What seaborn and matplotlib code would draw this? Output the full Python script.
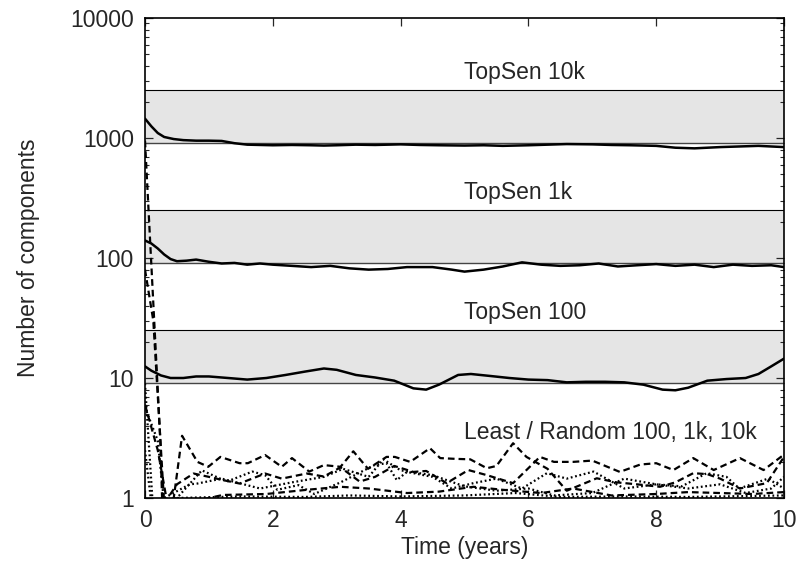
import matplotlib
matplotlib.use("Agg")
import matplotlib.pyplot as plt
import seaborn as sns

# ---- data ----
band_low = [9.1, 91, 910]
band_high = [25, 250, 2500]
band_labels = ["TopSen 100", "TopSen 1k", "TopSen 10k"]
band_label_pos = [35, 350, 3500]
least_label = "Least / Random 100, 1k, 10k"
least_label_pos = 3.5

top10k_x = [0, 0.1, 0.2, 0.3, 0.45, 0.6, 0.8, 1.0, 1.2, 1.4, 1.6, 1.8, 2.0, 2.3, 2.6, 2.8, 3.0, 3.3, 3.6, 4.0, 4.3, 4.6, 5.0, 5.3, 5.6, 6.0, 6.3, 6.6, 7.0, 7.3, 7.6, 8.0, 8.3, 8.6, 9.0, 9.3, 9.6, 10]
top10k_y = [1450, 1250, 1100, 1020, 980, 960, 950, 950, 945, 905, 880, 875, 870, 875, 870, 865, 870, 880, 875, 885, 875, 870, 865, 870, 860, 870, 880, 890, 885, 875, 870, 860, 830, 820, 840, 850, 860, 840]

top1k_x = [0, 0.1, 0.2, 0.3, 0.4, 0.5, 0.65, 0.8, 1.0, 1.2, 1.4, 1.6, 1.8, 2.0, 2.3, 2.6, 2.9, 3.2, 3.5, 3.8, 4.1, 4.5, 4.8, 5.0, 5.3, 5.6, 5.9, 6.2, 6.5, 6.8, 7.1, 7.4, 7.7, 8.0, 8.3, 8.6, 8.9, 9.2, 9.5, 9.8, 10]
top1k_y = [140, 132, 120, 107, 98, 94, 95, 97, 93, 90, 91, 88, 90, 88, 86, 84, 86, 82, 80, 81, 84, 84, 80, 77, 80, 85, 92, 88, 86, 87, 90, 85, 87, 89, 86, 88, 84, 88, 86, 87, 84]

top100_x = [0, 0.1, 0.25, 0.4, 0.6, 0.8, 1.0, 1.3, 1.6, 1.9, 2.2, 2.5, 2.8, 3.0, 3.3, 3.6, 3.9, 4.2, 4.4, 4.6, 4.9, 5.1, 5.4, 5.7, 6.0, 6.3, 6.6, 6.9, 7.2, 7.5, 7.8, 8.1, 8.3, 8.5, 8.8, 9.1, 9.4, 9.6, 9.8, 10]
top100_y = [12.5, 11.5, 10.5, 10.0, 10.0, 10.3, 10.3, 10.0, 9.7, 10.0, 10.6, 11.3, 12.0, 11.7, 10.6, 10.1, 9.5, 8.2, 8.0, 8.8, 10.6, 10.8, 10.4, 10.0, 9.7, 9.6, 9.2, 9.3, 9.3, 9.2, 8.8, 8.0, 7.9, 8.3, 9.5, 9.8, 10.0, 10.8, 12.5, 14.5]

least_a_x = [0, 0.24, 0.27, 0.45, 0.58, 0.82, 0.99, 1.18, 1.48, 1.61, 1.88, 2.14, 2.30, 2.57, 2.80, 3.06, 3.26, 3.49, 3.78, 3.91, 4.15, 4.46, 4.62, 4.85, 5.09, 5.35, 5.5, 5.76, 5.97, 6.3, 6.6, 7.07, 7.38, 7.7, 8.06, 8.3, 8.58, 8.8, 9.0, 9.31, 9.73, 10]
least_a_y = [950, 3.0, 0.9, 1.0, 3.3, 2.0, 1.82, 2.2, 1.95, 1.95, 2.28, 1.82, 2.15, 1.66, 1.88, 1.82, 2.45, 1.75, 2.2, 2.2, 2.0, 2.6, 2.15, 2.12, 2.1, 1.77, 1.85, 2.86, 2.2, 1.75, 1.15, 1.46, 1.35, 1.3, 1.24, 1.35, 1.61, 1.58, 1.45, 1.2, 1.33, 2.2]

least_b_x = [0, 0.13, 0.3, 0.5, 0.76, 1.0, 1.22, 1.48, 1.88, 2.14, 2.53, 2.80, 3.06, 3.36, 3.6, 3.9, 4.2, 4.4, 4.72, 5.06, 5.35, 5.76, 6.18, 6.4, 6.7, 7.0, 7.43, 7.75, 8.0, 8.27, 8.58, 8.9, 9.31, 9.68, 10]
least_b_y = [80, 30, 0.9, 1.3, 1.6, 1.5, 1.41, 1.32, 1.6, 1.45, 1.6, 1.51, 1.8, 1.37, 1.5, 1.85, 1.65, 1.68, 1.33, 1.71, 1.55, 1.33, 2.2, 2.0, 2.0, 2.05, 1.65, 1.9, 1.95, 1.71, 2.15, 1.71, 2.15, 1.71, 2.3]

least_c_x = [0, 0.2, 0.35, 0.6, 1.0, 1.22, 1.9, 2.53, 3.06, 3.5, 4.1, 4.6, 5.14, 5.6, 6.2, 6.7, 7.3, 8.0, 8.5, 9.0, 9.5, 10]
least_c_y = [6.0, 2.5, 0.9, 0.9, 1.0, 1.06, 1.08, 1.17, 1.24, 1.2, 1.1, 1.13, 1.24, 1.17, 1.1, 1.2, 1.05, 1.08, 1.12, 1.1, 1.08, 1.12]

rand_d_x = [0, 0.2, 0.3, 0.5, 0.89, 1.28, 1.68, 1.88, 2.07, 2.4, 2.65, 3.06, 3.59, 3.78, 3.94, 4.1, 4.5, 4.8, 5.14, 5.5, 5.9, 6.29, 6.6, 7.02, 7.5, 8.0, 8.4, 8.79, 9.1, 9.3, 9.75, 10]
rand_d_y = [5.7, 3.0, 0.9, 1.0, 1.7, 1.37, 1.66, 1.55, 1.17, 1.28, 1.08, 1.35, 1.88, 1.95, 1.41, 1.65, 1.5, 1.2, 1.33, 1.45, 1.2, 1.61, 1.45, 1.66, 1.2, 1.3, 1.25, 1.61, 1.5, 1.2, 1.45, 1.2]

rand_e_x = [0, 0.1, 0.5, 1.5, 2.5, 3.2, 4.0, 5.0, 5.8, 6.5, 7.5, 8.5, 9.5, 10]
rand_e_y = [2.5, 0.9, 1.0, 1.03, 1.02, 1.05, 1.03, 1.05, 1.1, 1.02, 1.03, 1.02, 1.04, 1.05]

rand_f_x = [0, 0.12, 0.3, 0.7, 0.82, 1.2, 1.8, 2.3, 2.8, 3.1, 3.5, 3.73, 4.0, 4.5, 5.0, 5.5, 6.0, 6.4, 7.0, 7.5, 8.0, 8.5, 9.0, 9.4, 9.8, 10]
rand_f_y = [9.0, 0.9, 1.0, 1.3, 1.32, 1.45, 1.2, 1.35, 1.5, 1.75, 1.5, 2.1, 1.7, 1.55, 1.25, 1.15, 1.2, 1.05, 1.1, 1.45, 1.3, 1.2, 1.3, 1.1, 1.2, 1.5]

x_ticks = [0, 2, 4, 6, 8, 10]
y_ticks = [1, 10, 100, 1000, 10000]

# ---- style ----
sns.set_style("ticks")
plt.rcParams["font.family"] = ["Liberation Sans", "DejaVu Sans"]
plt.rcParams["font.size"] = 16.5

fig = plt.figure(figsize=(8.02, 5.69), dpi=100)
ax = fig.add_axes([145 / 802, 1 - 498 / 569, (784 - 145) / 802, (498 - 18) / 569])

for lo, hi in zip(band_low, band_high):
    ax.axhspan(lo, hi, facecolor="#e5e5e5", edgecolor="none", zorder=0)
    ax.axhline(lo, color="#444444", lw=1.0, zorder=1)
    ax.axhline(hi, color="black", lw=0.8, zorder=1)

for xs, ys in [(top10k_x, top10k_y), (top1k_x, top1k_y), (top100_x, top100_y)]:
    sns.lineplot(x=xs, y=ys, ax=ax, color="black", lw=1.8, estimator=None, sort=False, zorder=3)

dashed = [(least_a_x, least_a_y), (least_b_x, least_b_y), (least_c_x, least_c_y)]
dotted = [(rand_d_x, rand_d_y), (rand_e_x, rand_e_y), (rand_f_x, rand_f_y)]
for xs, ys in dashed:
    sns.lineplot(x=xs, y=ys, ax=ax, color="black", lw=1.6, estimator=None, sort=False,
                 zorder=2).lines[-1].set_dashes([3, 1.8])
for xs, ys in dotted:
    sns.lineplot(x=xs, y=ys, ax=ax, color="black", lw=1.6, estimator=None, sort=False,
                 zorder=2).lines[-1].set_dashes([0.8, 1.2])

for lab, pos in zip(band_labels, band_label_pos):
    ax.text(5, pos, lab, ha="left", va="center", fontsize=16.5)
ax.text(5, least_label_pos, least_label, ha="left", va="center", fontsize=16.5)

ax.set_yscale("log")
ax.set_xlim(0, 10)
ax.set_ylim(1, 10000)
ax.set_xticks(x_ticks)
ax.set_xticklabels([str(t) for t in x_ticks])
ax.set_yticks(y_ticks)
ax.set_yticklabels([str(t) for t in y_ticks])
ax.tick_params(axis="both", which="major", direction="in", length=6, width=0.9,
               top=True, right=True, labelsize=16.5, pad=8)
ax.tick_params(axis="y", which="minor", direction="in", length=3, width=0.8, right=True)
ax.tick_params(axis="x", which="minor", bottom=False, top=False)
for sp in ax.spines.values():
    sp.set_linewidth(1.2)
    sp.set_color("black")

ax.set_xlabel("Time (years)", fontsize=16.5, labelpad=3)
ax.set_ylabel("Number of components", fontsize=16.5, labelpad=22)

fig.savefig("out.png", dpi=100)
